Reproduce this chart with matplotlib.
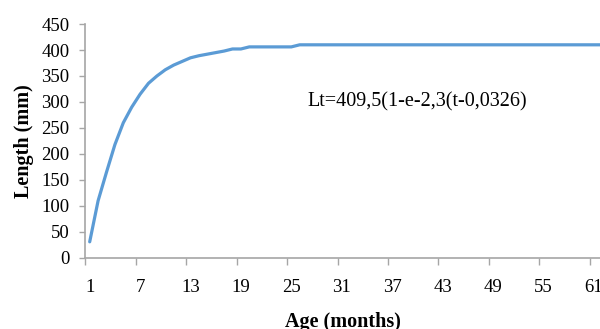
import numpy as np
import matplotlib
matplotlib.use("Agg")
import matplotlib.pyplot as plt

# age in months (category axis) and fitted length (mm)
age = list(range(1, 63))
length = [31, 110, 165, 218, 260, 290, 315, 336, 350, 362,
          371, 378, 385, 389, 392, 395, 398, 402, 402, 406,
          406, 406, 406, 406, 406] + [410] * 37

tick_labels = [str(a) for a in range(1, 62, 6)]
equation = "Lt=409,5(1-e-2,3(t-0,0326)"

plt.rcParams['font.family'] = ['Liberation Serif', 'DejaVu Serif']

fig = plt.figure(figsize=(6, 3.29), dpi=100)
ax = fig.add_axes([0.1425, 0.216, 0.8575, 0.711])

ax.plot(age, length, color='#5B9BD5', lw=2.3, solid_capstyle='round')

ax.set_xlim(0.5, 61.75)
ax.set_ylim(0, 450)
ax.set_yticks(np.arange(0, 451, 50))

# tick marks between categories, labels on the categories
ax.set_xticks(np.arange(0.5, 62, 6))
ax.set_xticklabels([])
ax.set_xticks([int(t) for t in tick_labels], minor=True)
ax.set_xticklabels(tick_labels, minor=True)
ax.tick_params(axis='x', which='major', length=5, width=1, color='#A6A6A6', direction='out')
ax.tick_params(axis='x', which='minor', length=0, pad=15, labelsize=13.5)
ax.tick_params(axis='y', length=4.5, width=1, color='#A6A6A6', direction='out', pad=7, labelsize=13.5)

for s in ['top', 'right']:
    ax.spines[s].set_visible(False)
for s in ['left', 'bottom']:
    ax.spines[s].set_color('#A6A6A6')
    ax.spines[s].set_linewidth(1.2)

ax.set_ylabel('Length (mm)', fontsize=14.5, fontweight='bold', labelpad=5)
ax.set_xlabel('Age (months)', fontsize=14.5, fontweight='bold', labelpad=12)

fig.text(307 / 600, 1 - 102 / 329, equation, fontsize=14.5, ha='left', va='center')

fig.savefig('out.png', dpi=100)
